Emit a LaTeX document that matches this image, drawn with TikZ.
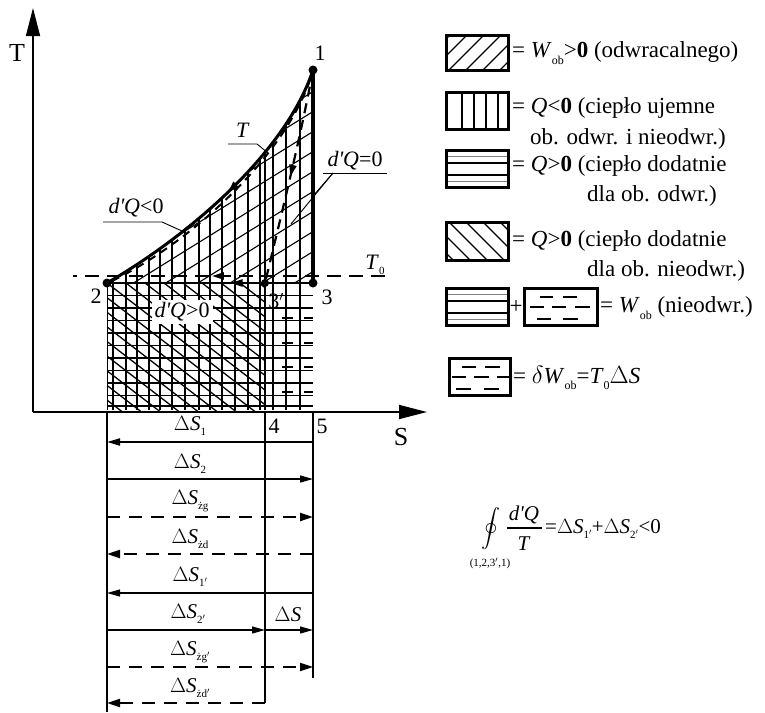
\documentclass[tikz,border=0pt]{standalone}
\usepackage{fontspec}
\setmainfont{Liberation Serif}
\usetikzlibrary{arrows.meta,decorations.markings}
\newcommand{\lsub}[1]{\raisebox{-0.55ex}{\fontsize{11}{11}\selectfont #1}}
\newcommand{\osub}[1]{\raisebox{-0.6ex}{\fontsize{12}{12}\selectfont #1}}
\newcommand{\dQ}{\textit{d\textquotesingle Q}}
\begin{document}
\begin{tikzpicture}[x=1pt,y=-1pt,
  lbl/.style={font=\fontsize{22}{22}\selectfont, inner sep=0pt},
  dlbl/.style={font=\fontsize{21}{21}\selectfont, inner sep=0pt},
  leg/.style={font=\fontsize{23}{23}\selectfont, inner sep=0pt, anchor=west},
  box/.style={line width=3pt},
  hatch/.style={line width=1.1pt},
  dot/.style={circle, fill, inner sep=0pt, minimum size=9pt},
  ax/.style={line width=1.5pt, -{Triangle[length=28pt,width=14pt]}},
  dsarrow/.style={line width=1.3pt, -{Triangle[length=13pt,width=7pt]}},
  dsdash/.style={line width=2.2pt, dash pattern=on 13pt off 9pt, -{Triangle[length=13pt,width=8pt]}},
  midarrow/.style={postaction={decorate, decoration={markings, mark=at position #1 with {\arrow{Triangle[length=12pt,width=7pt]}}}}},
  leader/.style={line width=0.9pt}
]
\useasboundingbox (0,0) rectangle (765,712);

% key points
\coordinate (p1) at (313,70);
\coordinate (p2) at (107,283);
\coordinate (p3) at (313,283);
\coordinate (p3p) at (265,283);
\coordinate (o) at (33,412);
\coordinate (tt) at (33,8);
\coordinate (ss) at (427,412);

% ---------- hatching ----------
% vertical lines (whole area under curve)
\begin{scope}
\clip (107,283) .. controls (185,238) and (285,155) .. (313,70) -- (313,410) -- (107,410) -- cycle;
\foreach \x in {113,126,137,149,160,172,185,199,210,222,235,248,260,273,286,300}
  \draw[hatch] (\x,60) -- (\x,410);
\foreach \x in {107,137,172,210,248,265}
  \draw[line width=1.7pt] (\x,60) -- (\x,410);
\end{scope}
% region A: / lines
\begin{scope}
\clip (107,283) .. controls (185,238) and (285,155) .. (313,70) -- (313,283) -- cycle;
\foreach \c in {210,230,...,430}
  \draw[hatch] (90,\c) -- (330,\c-149);
\end{scope}
% region B: \ lines
\begin{scope}
\clip (107,283) rectangle (265,410);
\foreach \k in {-9,...,8}
  \draw[line width=1.3pt] (107+19*\k,283) -- (107+19*\k+200,283+154);
\end{scope}
% horizontal lines
\foreach \y in {295.5,308,320.5,333,345.5,358,370.5,383,395.5}
  \draw[hatch] (107,\y) -- (313,\y);
\draw[line width=1.7pt] (107,333) -- (313,333);
\draw[line width=1.7pt] (107,383) -- (313,383);
\draw[line width=2pt] (107,406) -- (313,406);
% region C dashes
\foreach \y in {318,343,367,392}{
  \draw[line width=2pt] (282,\y) -- (293,\y);
  \draw[line width=2pt] (304,\y) -- (313,\y);
}

% ---------- axes ----------
\draw[ax] (o) -- (tt);
\draw[ax] (o) -- (ss);
\node[lbl, font=\fontsize{26}{26}\selectfont] (tlab) at (17,53) {T};
\node[lbl, font=\fontsize{26}{26}\selectfont] (slab) at (401,437) {S};

% ---------- cycle lines ----------
\draw[line width=2.2pt, dash pattern=on 14pt off 8pt, midarrow=0.555] (385,276) -- (73,276);
\draw[line width=2pt, dash pattern=on 8pt off 6pt] (310,80) .. controls (283,158) and (190,243) .. (112,281);
\draw[line width=2.2pt, dash pattern=on 10pt off 7pt, midarrow=0.5] (p1) .. controls (300,140) and (280,220) .. (p3p);
\draw[line width=3pt, midarrow=0.5] (p1) .. controls (285,155) and (185,238) .. (p2);
\draw[line width=2.6pt, midarrow=0.4] (p3) -- (p2);
\draw[line width=4pt] (p1) -- (p3);

\node[dot] (d1) at (p1) {};
\node[dot] (d2) at (p2) {};
\node[dot] (d3) at (p3) {};
\node[dot, minimum size=8pt] (d3p) at (p3p) {};

\node[lbl] (n1) at (320,53) {1};
\node[lbl] (n2) at (96,296) {2};
\node[lbl] (n3) at (327,297) {3};
\node[lbl] (n3p) at (276,301) {3$'$};
\node[lbl] (n4) at (274,426) {4};
\node[lbl] (n5) at (322,426) {5};
\node[lbl] (t0) at (375,265) {\textit{T}\lsub{0}};

% leaders
\node[lbl] (tc) at (243,130) {\textit{T}};
\coordinate (tu1) at (228,144);
\coordinate (tu2) at (257,144);
\coordinate (tc2) at (268,153);
\draw[leader] (tu1) -- (tu2) -- (tc2);

\node[lbl] (qneg) at (136,208) {\dQ<0};
\coordinate (qu1) at (103,222);
\coordinate (qu2) at (162,222);
\coordinate (qc) at (182,231);
\draw[leader] (qu1) -- (qu2) -- (qc);

\node[lbl] (qzero) at (355,161) {\dQ=0};
\coordinate (zu1) at (323,173);
\coordinate (zu2) at (387,173);
\coordinate (zc1) at (313,196);
\coordinate (zc2) at (291,224);
\draw[leader] (zu1) -- (zu2);
\draw[leader] (333,173) -- (zc1);
\draw[leader] (333,173) -- (zc2);

\node[lbl, fill=white, inner sep=3pt] (qpos) at (182,312) {\dQ>0};

% ---------- bottom verticals ----------
\coordinate (b2) at (107,712);
\coordinate (b4) at (265,703);
\coordinate (b5) at (313,678);
\draw[line width=1.3pt] (107,412) -- (b2);
\draw[line width=1.3pt] (265,412) -- (b4);
\draw[line width=1.3pt] (313,412) -- (b5);

% ---------- entropy arrows ----------
\foreach \i/\y in {1/442,2/479,3/517,4/554,5/593,6/630,7/667,8/703}{
  \coordinate (L\i) at (107,\y);
  \coordinate (M\i) at (265,\y);
  \coordinate (R\i) at (313,\y);
}
\draw[dsarrow, line width=2pt] (R1) -- (L1);
\draw[dsarrow] (L2) -- (R2);
\draw[dsdash] (L3) -- (R3);
\draw[dsdash] (R4) -- (L4);
\draw[dsarrow] (R5) -- (L5);
\draw[dsarrow] (L6) -- (M6);
\draw[dsarrow] (M6) -- (R6);
\draw[dsdash, line width=1.8pt] (L7) -- (R7);
\draw[dsdash] (M8) -- (L8);

\node[dlbl] (s1) at (190,426) {$\Delta$\textit{S}\lsub{1}};
\node[dlbl] (s2) at (190,464) {$\Delta$\textit{S}\lsub{2}};
\node[dlbl] (s3) at (190,501) {$\Delta$\textit{S}\lsub{żg}};
\node[dlbl] (s4) at (190,539) {$\Delta$\textit{S}\lsub{żd}};
\node[dlbl] (s5) at (190,577) {$\Delta$\textit{S}\lsub{1$'$}};
\node[dlbl] (s6) at (188,614) {$\Delta$\textit{S}\lsub{2$'$}};
\node[dlbl] (s6b) at (288,615) {$\Delta$\textit{S}};
\node[dlbl] (s7) at (190,652) {$\Delta$\textit{S}\lsub{żg$'$}};
\node[dlbl] (s8) at (190,688) {$\Delta$\textit{S}\lsub{żd$'$}};

% ---------- formula ----------
\node[inner sep=0pt] (oint) at (491,529) {\scalebox{1.9}{$\displaystyle\oint$}};
\node[inner sep=0pt, font=\fontsize{21}{21}\selectfont] (num) at (524,515) {\dQ};
\node[inner sep=0pt, font=\fontsize{21}{21}\selectfont] (den) at (524,544) {\textit{T}};
\coordinate (fb1) at (507,528);
\coordinate (fb2) at (542,528);
\draw[line width=1.2pt] (fb1) -- (fb2);
\node[inner sep=0pt, anchor=west, font=\fontsize{21}{21}\selectfont] (rhs) at (545,529) {=$\Delta$\textit{S}\lsub{1$'$}+$\Delta$\textit{S}\lsub{2$'$}<0};
\node[inner sep=0pt, font=\fontsize{11}{11}\selectfont] (path) at (490,563) {(1,2,3$'$,1)};

% ---------- legend ----------
% box 1
\begin{scope}
\clip (446,35) rectangle (508,70);
\foreach \k in {-1,...,4}
  \draw[line width=1.1pt] (432+17*\k,70) -- (467+17*\k,35);
\end{scope}
\draw[box] (446,35) rectangle (508,70);
\node[leg] (t1) at (512,53) {= \textit{W}\osub{ob}>\textbf{0} (odwracalnego)};
% box 2
\foreach \x in {462,474,486,498}
  \draw[line width=1.1pt] (\x,92) -- (\x,129);
\draw[box] (446,92) rectangle (508,129);
\node[leg] (t2) at (512,108) {= \textit{Q}<\textbf{0} (ciepło ujemne};
\node[leg] (t2b) at (530,139) {ob. odwr. i nieodwr.)};
% box 3
\draw[line width=0.8pt, gray] (446,156) -- (508,156);
\draw[line width=0.8pt, gray] (446,181) -- (508,181);
\draw[line width=1.1pt] (446,163) -- (508,163);
\draw[line width=1.1pt] (446,175) -- (508,175);
\draw[box] (446,150) rectangle (508,187);
\node[leg] (t3) at (512,166) {= \textit{Q}>\textbf{0} (ciepło dodatnie};
\node[leg] (t3b) at (587,196) {dla ob. odwr.)};
% box 4
\begin{scope}
\clip (446,222) rectangle (508,260);
\foreach \k in {-1,...,4}
  \draw[line width=1.1pt] (432+17*\k,222) -- (470+17*\k,260);
\end{scope}
\draw[box] (446,222) rectangle (508,260);
\node[leg] (t4) at (512,241) {= \textit{Q}>\textbf{0} (ciepło dodatnie};
\node[leg] (t4b) at (587,271) {dla ob. nieodwr.)};
% box 5
\draw[line width=0.8pt, gray] (446,294) -- (508,294);
\draw[line width=0.8pt, gray] (446,319) -- (508,319);
\draw[line width=1.1pt] (446,301) -- (508,301);
\draw[line width=1.1pt] (446,313) -- (508,313);
\draw[box] (446,288) rectangle (508,325);
\node[leg, anchor=center] (plus) at (516,307) {+};
\foreach \a/\b/\y in {540/553/297, 563/577/297, 530/544/307, 552/566/307, 575/590/307, 537/551/319, 563/578/319}
  \draw[line width=1.5pt] (\a,\y) -- (\b,\y);
\draw[box] (524,288) rectangle (597,325);
\node[leg] (t5) at (600,308) {= \textit{W}\osub{ob} (nieodwr.)};
% box 6
\foreach \a/\b/\y in {462/476/367, 485/500/367, 452/466/377, 474/489/377, 497/510/377, 456/471/389, 484/499/389}
  \draw[line width=1.5pt] (\a,\y) -- (\b,\y);
\draw[box] (449,358) rectangle (510,395);
\node[leg] (t6) at (513,378) {= $\delta$\textit{W}\osub{ob}=\textit{T}\osub{0}$\Delta$\textit{S}};
\end{tikzpicture}
\end{document}
